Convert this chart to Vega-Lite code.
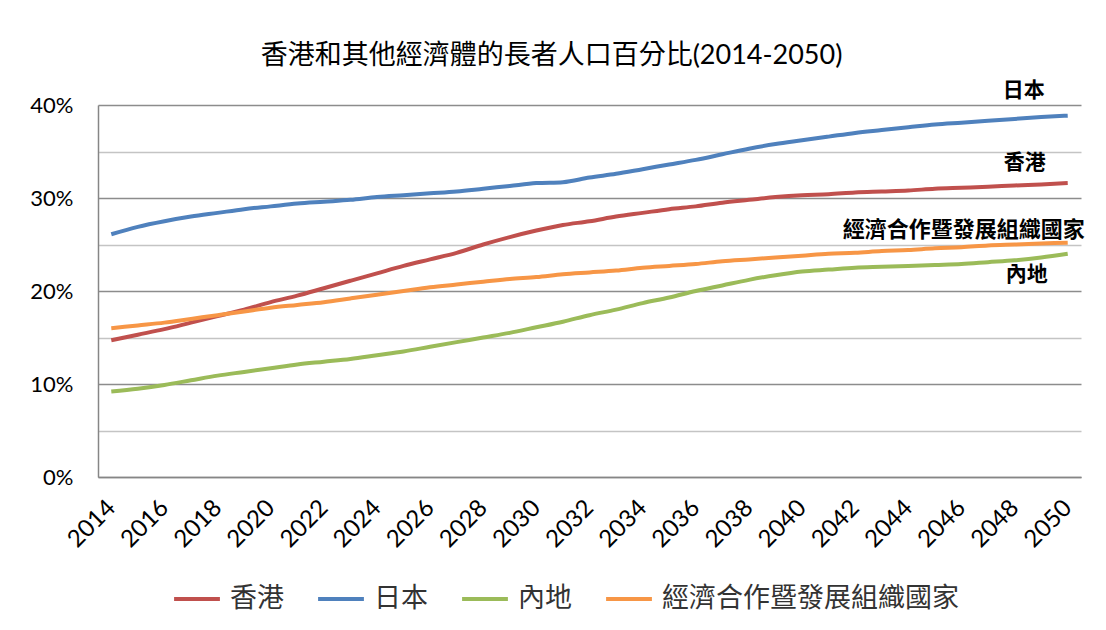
{
  "$schema": "https://vega.github.io/schema/vega-lite/v6.json",
  "autosize": "none",
  "width": 983,
  "height": 372,
  "padding": {"left": 98, "top": 105, "right": 25, "bottom": 153},
  "background": "white",
  "config": {
    "view": {"stroke": null},
    "font": "Lato, Noto Sans CJK TC"
  },
  "title": {
    "text": "香港和其他經濟體的長者人口百分比(2014-2050)",
    "font": "Lato, Noto Sans CJK TC",
    "fontSize": 27,
    "fontWeight": "normal",
    "color": "#000000",
    "anchor": "middle",
    "dx": -38,
    "offset": 10
  },
  "data": {
    "values": [
      {"year": 2014, "series": "香港", "value": 0.147},
      {"year": 2015, "series": "香港", "value": 0.153},
      {"year": 2016, "series": "香港", "value": 0.159},
      {"year": 2017, "series": "香港", "value": 0.166},
      {"year": 2018, "series": "香港", "value": 0.173},
      {"year": 2019, "series": "香港", "value": 0.180},
      {"year": 2020, "series": "香港", "value": 0.188},
      {"year": 2021, "series": "香港", "value": 0.195},
      {"year": 2022, "series": "香港", "value": 0.203},
      {"year": 2023, "series": "香港", "value": 0.211},
      {"year": 2024, "series": "香港", "value": 0.219},
      {"year": 2025, "series": "香港", "value": 0.227},
      {"year": 2026, "series": "香港", "value": 0.234},
      {"year": 2027, "series": "香港", "value": 0.241},
      {"year": 2028, "series": "香港", "value": 0.250},
      {"year": 2029, "series": "香港", "value": 0.258},
      {"year": 2030, "series": "香港", "value": 0.265},
      {"year": 2031, "series": "香港", "value": 0.271},
      {"year": 2032, "series": "香港", "value": 0.275},
      {"year": 2033, "series": "香港", "value": 0.280},
      {"year": 2034, "series": "香港", "value": 0.284},
      {"year": 2035, "series": "香港", "value": 0.288},
      {"year": 2036, "series": "香港", "value": 0.291},
      {"year": 2037, "series": "香港", "value": 0.295},
      {"year": 2038, "series": "香港", "value": 0.298},
      {"year": 2039, "series": "香港", "value": 0.301},
      {"year": 2040, "series": "香港", "value": 0.303},
      {"year": 2041, "series": "香港", "value": 0.304},
      {"year": 2042, "series": "香港", "value": 0.306},
      {"year": 2043, "series": "香港", "value": 0.307},
      {"year": 2044, "series": "香港", "value": 0.308},
      {"year": 2045, "series": "香港", "value": 0.310},
      {"year": 2046, "series": "香港", "value": 0.311},
      {"year": 2047, "series": "香港", "value": 0.312},
      {"year": 2048, "series": "香港", "value": 0.3135},
      {"year": 2049, "series": "香港", "value": 0.3145},
      {"year": 2050, "series": "香港", "value": 0.316},
      {"year": 2014, "series": "日本", "value": 0.261},
      {"year": 2015, "series": "日本", "value": 0.269},
      {"year": 2016, "series": "日本", "value": 0.275},
      {"year": 2017, "series": "日本", "value": 0.280},
      {"year": 2018, "series": "日本", "value": 0.284},
      {"year": 2019, "series": "日本", "value": 0.288},
      {"year": 2020, "series": "日本", "value": 0.291},
      {"year": 2021, "series": "日本", "value": 0.294},
      {"year": 2022, "series": "日本", "value": 0.296},
      {"year": 2023, "series": "日本", "value": 0.298},
      {"year": 2024, "series": "日本", "value": 0.301},
      {"year": 2025, "series": "日本", "value": 0.303},
      {"year": 2026, "series": "日本", "value": 0.305},
      {"year": 2027, "series": "日本", "value": 0.307},
      {"year": 2028, "series": "日本", "value": 0.310},
      {"year": 2029, "series": "日本", "value": 0.313},
      {"year": 2030, "series": "日本", "value": 0.316},
      {"year": 2031, "series": "日本", "value": 0.317},
      {"year": 2032, "series": "日本", "value": 0.322},
      {"year": 2033, "series": "日本", "value": 0.326},
      {"year": 2034, "series": "日本", "value": 0.331},
      {"year": 2035, "series": "日本", "value": 0.336},
      {"year": 2036, "series": "日本", "value": 0.341},
      {"year": 2037, "series": "日本", "value": 0.347},
      {"year": 2038, "series": "日本", "value": 0.353},
      {"year": 2039, "series": "日本", "value": 0.358},
      {"year": 2040, "series": "日本", "value": 0.362},
      {"year": 2041, "series": "日本", "value": 0.366},
      {"year": 2042, "series": "日本", "value": 0.370},
      {"year": 2043, "series": "日本", "value": 0.373},
      {"year": 2044, "series": "日本", "value": 0.376},
      {"year": 2045, "series": "日本", "value": 0.379},
      {"year": 2046, "series": "日本", "value": 0.381},
      {"year": 2047, "series": "日本", "value": 0.383},
      {"year": 2048, "series": "日本", "value": 0.385},
      {"year": 2049, "series": "日本", "value": 0.387},
      {"year": 2050, "series": "日本", "value": 0.3885},
      {"year": 2014, "series": "內地", "value": 0.092},
      {"year": 2015, "series": "內地", "value": 0.095},
      {"year": 2016, "series": "內地", "value": 0.099},
      {"year": 2017, "series": "內地", "value": 0.104},
      {"year": 2018, "series": "內地", "value": 0.109},
      {"year": 2019, "series": "內地", "value": 0.113},
      {"year": 2020, "series": "內地", "value": 0.117},
      {"year": 2021, "series": "內地", "value": 0.121},
      {"year": 2022, "series": "內地", "value": 0.124},
      {"year": 2023, "series": "內地", "value": 0.127},
      {"year": 2024, "series": "內地", "value": 0.131},
      {"year": 2025, "series": "內地", "value": 0.135},
      {"year": 2026, "series": "內地", "value": 0.140},
      {"year": 2027, "series": "內地", "value": 0.145},
      {"year": 2028, "series": "內地", "value": 0.150},
      {"year": 2029, "series": "內地", "value": 0.155},
      {"year": 2030, "series": "內地", "value": 0.161},
      {"year": 2031, "series": "內地", "value": 0.167},
      {"year": 2032, "series": "內地", "value": 0.174},
      {"year": 2033, "series": "內地", "value": 0.180},
      {"year": 2034, "series": "內地", "value": 0.187},
      {"year": 2035, "series": "內地", "value": 0.193},
      {"year": 2036, "series": "內地", "value": 0.200},
      {"year": 2037, "series": "內地", "value": 0.206},
      {"year": 2038, "series": "內地", "value": 0.212},
      {"year": 2039, "series": "內地", "value": 0.217},
      {"year": 2040, "series": "內地", "value": 0.221},
      {"year": 2041, "series": "內地", "value": 0.223},
      {"year": 2042, "series": "內地", "value": 0.225},
      {"year": 2043, "series": "內地", "value": 0.226},
      {"year": 2044, "series": "內地", "value": 0.227},
      {"year": 2045, "series": "內地", "value": 0.228},
      {"year": 2046, "series": "內地", "value": 0.229},
      {"year": 2047, "series": "內地", "value": 0.231},
      {"year": 2048, "series": "內地", "value": 0.233},
      {"year": 2049, "series": "內地", "value": 0.236},
      {"year": 2050, "series": "內地", "value": 0.240},
      {"year": 2014, "series": "經濟合作暨發展組織國家", "value": 0.160},
      {"year": 2015, "series": "經濟合作暨發展組織國家", "value": 0.163},
      {"year": 2016, "series": "經濟合作暨發展組織國家", "value": 0.166},
      {"year": 2017, "series": "經濟合作暨發展組織國家", "value": 0.170},
      {"year": 2018, "series": "經濟合作暨發展組織國家", "value": 0.174},
      {"year": 2019, "series": "經濟合作暨發展組織國家", "value": 0.178},
      {"year": 2020, "series": "經濟合作暨發展組織國家", "value": 0.182},
      {"year": 2021, "series": "經濟合作暨發展組織國家", "value": 0.185},
      {"year": 2022, "series": "經濟合作暨發展組織國家", "value": 0.188},
      {"year": 2023, "series": "經濟合作暨發展組織國家", "value": 0.192},
      {"year": 2024, "series": "經濟合作暨發展組織國家", "value": 0.196},
      {"year": 2025, "series": "經濟合作暨發展組織國家", "value": 0.200},
      {"year": 2026, "series": "經濟合作暨發展組織國家", "value": 0.204},
      {"year": 2027, "series": "經濟合作暨發展組織國家", "value": 0.207},
      {"year": 2028, "series": "經濟合作暨發展組織國家", "value": 0.210},
      {"year": 2029, "series": "經濟合作暨發展組織國家", "value": 0.213},
      {"year": 2030, "series": "經濟合作暨發展組織國家", "value": 0.215},
      {"year": 2031, "series": "經濟合作暨發展組織國家", "value": 0.218},
      {"year": 2032, "series": "經濟合作暨發展組織國家", "value": 0.220},
      {"year": 2033, "series": "經濟合作暨發展組織國家", "value": 0.222},
      {"year": 2034, "series": "經濟合作暨發展組織國家", "value": 0.225},
      {"year": 2035, "series": "經濟合作暨發展組織國家", "value": 0.227},
      {"year": 2036, "series": "經濟合作暨發展組織國家", "value": 0.229},
      {"year": 2037, "series": "經濟合作暨發展組織國家", "value": 0.232},
      {"year": 2038, "series": "經濟合作暨發展組織國家", "value": 0.234},
      {"year": 2039, "series": "經濟合作暨發展組織國家", "value": 0.236},
      {"year": 2040, "series": "經濟合作暨發展組織國家", "value": 0.238},
      {"year": 2041, "series": "經濟合作暨發展組織國家", "value": 0.240},
      {"year": 2042, "series": "經濟合作暨發展組織國家", "value": 0.241},
      {"year": 2043, "series": "經濟合作暨發展組織國家", "value": 0.243},
      {"year": 2044, "series": "經濟合作暨發展組織國家", "value": 0.244},
      {"year": 2045, "series": "經濟合作暨發展組織國家", "value": 0.246},
      {"year": 2046, "series": "經濟合作暨發展組織國家", "value": 0.247},
      {"year": 2047, "series": "經濟合作暨發展組織國家", "value": 0.249},
      {"year": 2048, "series": "經濟合作暨發展組織國家", "value": 0.250},
      {"year": 2049, "series": "經濟合作暨發展組織國家", "value": 0.251},
      {"year": 2050, "series": "經濟合作暨發展組織國家", "value": 0.252}
    ]
  },
  "encoding": {
    "x": {
      "field": "year",
      "type": "quantitative",
      "scale": {"domain": [2013.5, 2050.5], "nice": false, "zero": false},
      "axis": {
        "title": null,
        "values": [2014, 2016, 2018, 2020, 2022, 2024, 2026, 2028, 2030, 2032, 2034, 2036, 2038, 2040, 2042, 2044, 2046, 2048, 2050],
        "format": "d",
        "grid": false,
        "ticks": false,
        "domainColor": "#868686",
        "domainWidth": 1.5,
        "labelAngle": -45,
        "labelAlign": "right",
        "labelBaseline": "middle",
        "labelPadding": 27,
        "labelFontSize": 24,
        "labelColor": "#000000",
        "labelFont": "Lato",
        "labelOverlap": false,
        "labelFlush": false
      }
    },
    "y": {
      "field": "value",
      "type": "quantitative",
      "scale": {"domain": [0, 0.4], "nice": false},
      "axis": {
        "title": null,
        "values": [0, 0.05, 0.1, 0.15, 0.2, 0.25, 0.3, 0.35, 0.4],
        "labelExpr": "round(datum.value * 100) % 10 === 0 ? format(datum.value, '.0%') : ''",
        "grid": true,
        "gridColor": {"condition": {"test": "round(datum.value * 100) % 10 === 0", "value": "#8c8c8c"}, "value": "#c4c4c4"},
        "gridWidth": 1.5,
        "ticks": false,
        "domainColor": "#868686",
        "domainWidth": 1.5,
        "labelPadding": 25,
        "labelFontSize": 22,
        "labelColor": "#000000",
        "labelFont": "Lato"
      }
    }
  },
  "layer": [
    {
      "mark": {"type": "line", "strokeWidth": 4, "interpolate": "monotone"},
      "encoding": {
        "color": {
          "field": "series",
          "type": "nominal",
          "scale": {
            "domain": ["香港", "日本", "內地", "經濟合作暨發展組織國家"],
            "range": ["#C0504D", "#4F81BD", "#9BBB59", "#F79646"]
          },
          "legend": {
            "title": null,
            "orient": "none",
            "direction": "horizontal",
            "legendX": 74,
            "legendY": 469,
            "symbolType": "stroke",
            "symbolSize": 2100,
            "symbolStrokeWidth": 4,
            "labelFontSize": 27,
            "labelFont": "Noto Sans CJK TC",
            "labelColor": "#333333",
            "labelOffset": 8,
            "columnPadding": 26,
            "labelLimit": 400
          }
        }
      }
    },
    {
      "transform": [{"filter": "datum.year === 2050 && datum.series === '日本'"}],
      "mark": {"type": "text", "align": "right", "baseline": "middle", "dx": -23, "dy": -25, "fontSize": 21, "fontWeight": "bold", "font": "Noto Sans CJK TC", "color": "#000000"},
      "encoding": {"text": {"field": "series"}}
    },
    {
      "transform": [{"filter": "datum.year === 2050 && datum.series === '香港'"}],
      "mark": {"type": "text", "align": "right", "baseline": "middle", "dx": -22, "dy": -20, "fontSize": 21, "fontWeight": "bold", "font": "Noto Sans CJK TC", "color": "#000000"},
      "encoding": {"text": {"field": "series"}}
    },
    {
      "transform": [{"filter": "datum.year === 2050 && datum.series === '經濟合作暨發展組織國家'"}],
      "mark": {"type": "text", "align": "right", "baseline": "middle", "dx": 17, "dy": -13, "fontSize": 22, "fontWeight": "bold", "font": "Noto Sans CJK TC", "color": "#000000"},
      "encoding": {"text": {"field": "series"}}
    },
    {
      "transform": [{"filter": "datum.year === 2050 && datum.series === '內地'"}],
      "mark": {"type": "text", "align": "right", "baseline": "middle", "dx": -20, "dy": 21, "fontSize": 21, "fontWeight": "bold", "font": "Noto Sans CJK TC", "color": "#000000"},
      "encoding": {"text": {"field": "series"}}
    }
  ]
}
